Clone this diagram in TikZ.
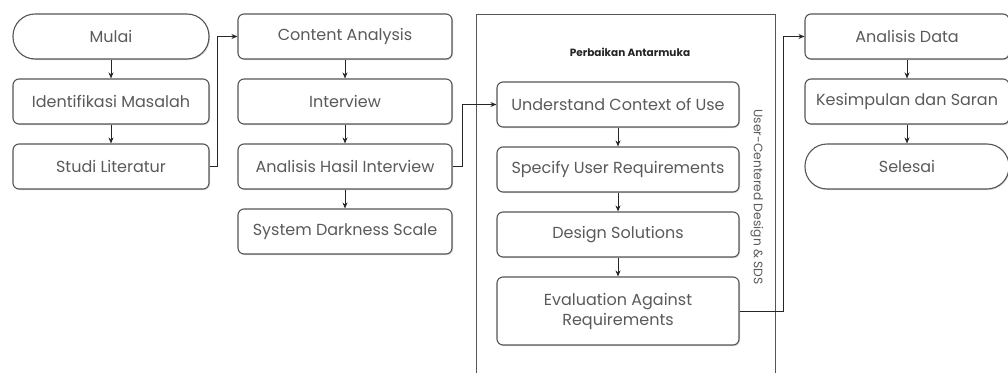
\documentclass[tikz,border=0pt]{standalone}
\usepackage{fontspec}
\setmainfont{Poppins}
\usepackage{xcolor}
\usepackage{tikz}
\usetikzlibrary{arrows.meta, positioning, shadows}

\definecolor{boxline}{HTML}{555555}
\definecolor{boxtext}{HTML}{5A5A5A}

\begin{document}
\begin{tikzpicture}[x=1pt, y=-1pt, node distance=65pt, >={Stealth[length=6pt,width=5pt]},
  block/.style={rectangle, draw=boxline, line width=1.1pt, fill=white, text=boxtext, font=\fontsize{16}{20}\selectfont, text centered, rounded corners=6pt, minimum height=45pt, inner sep=2pt, drop shadow={shadow xshift=1pt, shadow yshift=-1pt, opacity=0.3}},
  pill/.style={block, rounded corners=22pt},
  link/.style={->, draw=black!85, line width=0.9pt}]
\clip (0,0) rectangle (1008,372);
\fill[white] (0,0) rectangle (1008,372);
% kolom 1
\node [pill, minimum width=196pt] at (111,36.5) (mulai) {Mulai};
\node [block, minimum width=196pt, below of=mulai] (identifikasi) {Identifikasi Masalah};
\node [block, minimum width=196pt, below of=identifikasi] (studi) {Studi Literatur};
% kolom 2
\node [block, minimum width=214pt] at (345,36.5) (content) {Content Analysis};
\node [block, minimum width=214pt, below of=content] (interview) {Interview};
\node [block, minimum width=214pt, below of=interview] (hasil) {Analisis Hasil Interview};
\node [block, minimum width=214pt, below of=hasil] (sds) {System Darkness Scale};
% perbaikan antarmuka
\draw [boxline, line width=1pt] (476,14) rectangle (775,400);
\node [font=\bfseries\fontsize{10.5}{13}\selectfont, text=black!85] at (630,52) (judul) {Perbaikan Antarmuka};
\node [rotate=-90, text=boxtext, font=\fontsize{12.3}{15}\selectfont] at (757,197) (ucd) {User-Centered Design \& SDS};
\node [block, minimum width=242pt] at (618,104.5) (understand) {Understand Context of Use};
\node [block, minimum width=242pt, below of=understand] (specify) {Specify User Requirements};
\node [block, minimum width=242pt, below of=specify] (design) {Design Solutions};
\node [block, minimum width=242pt, minimum height=68pt, align=center, below of=design, node distance=76.5pt] (evaluation) {Evaluation Against\\Requirements};
% kolom 4
\node [block, minimum width=204pt] at (907,36.5) (data) {Analisis Data};
\node [block, minimum width=204pt, below of=data] (kesimpulan) {Kesimpulan dan Saran};
\node [pill, minimum width=204pt, below of=kesimpulan] (selesai) {Selesai};
% panah
\draw [link] (mulai) -- (identifikasi);
\draw [link] (identifikasi) -- (studi);
\draw [link] (content) -- (interview);
\draw [link] (interview) -- (hasil);
\draw [link] (hasil) -- (sds);
\draw [link] (understand) -- (specify);
\draw [link] (specify) -- (design);
\draw [link] (design) -- (evaluation);
\draw [link] (data) -- (kesimpulan);
\draw [link] (kesimpulan) -- (selesai);
\draw [link] (studi.east) -| ([xshift=-20pt]content.west) -- (content.west);
\draw [link] (hasil.east) -| ([xshift=-34pt]understand.west) -- (understand.west);
\draw [link] (evaluation.east) -| ([xshift=-21pt]data.west) -- (data.west);
\end{tikzpicture}
\end{document}
